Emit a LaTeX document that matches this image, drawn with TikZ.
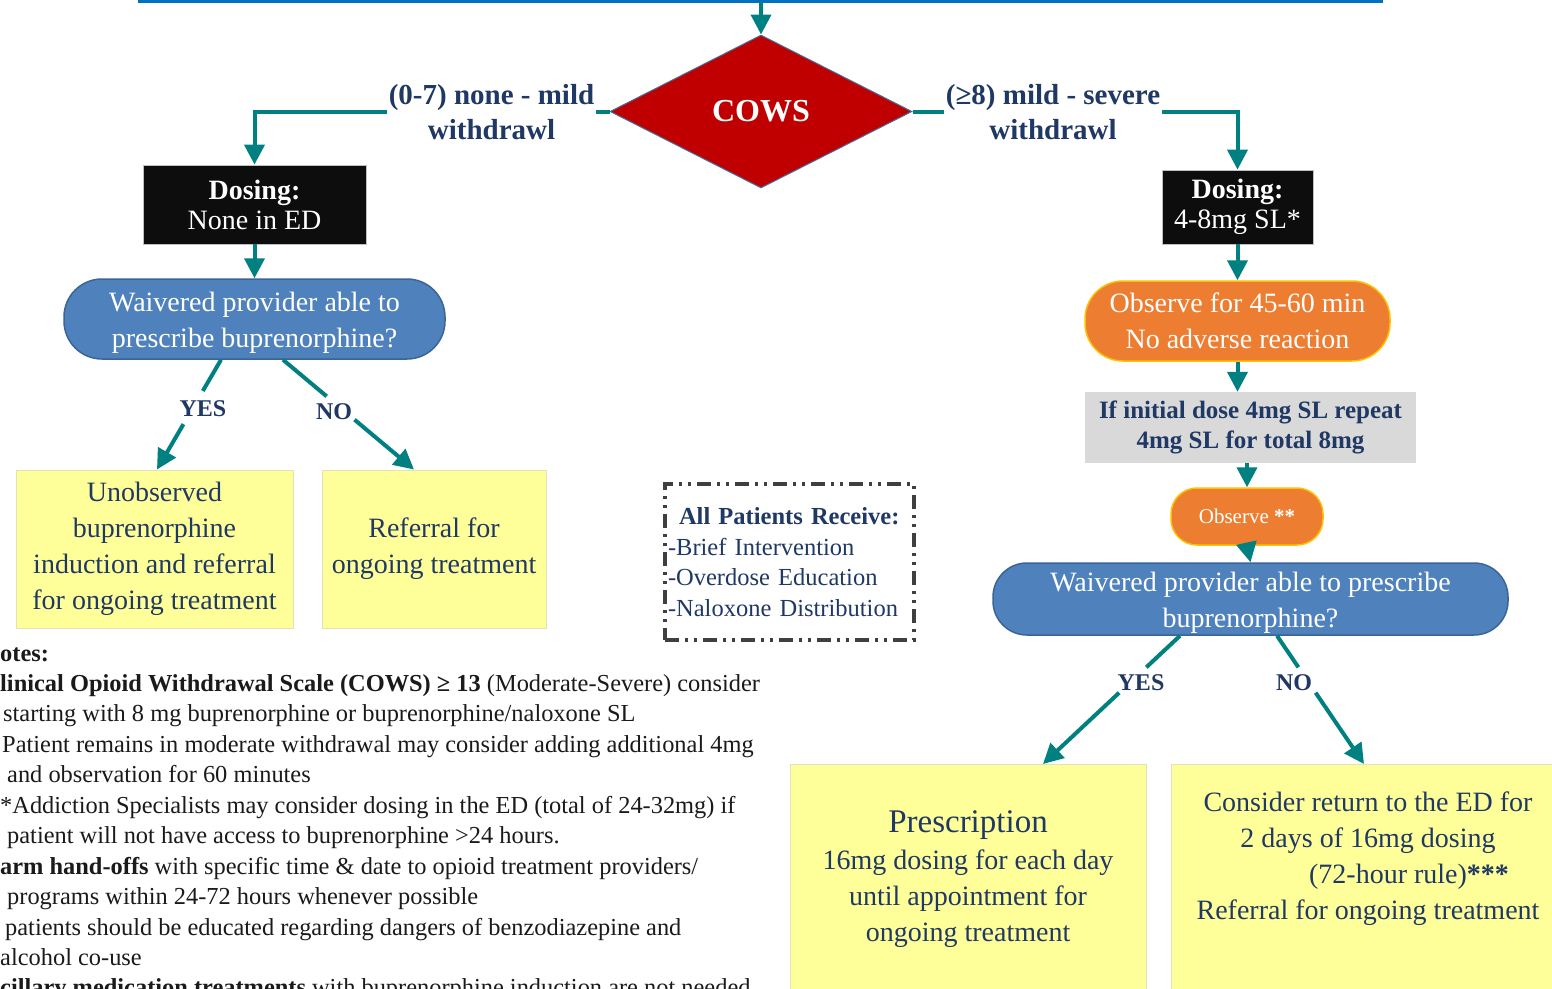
\documentclass[tikz,border=0pt]{standalone}
\usepackage{fontspec}
\setmainfont{Liberation Serif}
\usetikzlibrary{shapes.geometric,arrows.meta,calc}
\definecolor{tealc}{RGB}{0,128,128}
\definecolor{navy}{HTML}{1F3864}
\definecolor{topblue}{HTML}{0070C0}
\definecolor{cowsred}{HTML}{C00000}
\definecolor{cowsedge}{HTML}{41719C}
\definecolor{blackf}{HTML}{0D0D0D}
\definecolor{bluef}{HTML}{4F81BD}
\definecolor{blueb}{HTML}{3A6595}
\definecolor{orangef}{HTML}{ED7D31}
\definecolor{goldb}{HTML}{FFC000}
\definecolor{yellowf}{HTML}{FFFF99}
\definecolor{yellowb}{HTML}{E2E2B8}
\definecolor{grayf}{HTML}{D9D9D9}
\definecolor{dashc}{HTML}{3F3F3F}
\definecolor{notec}{HTML}{1A1A1A}
\begin{document}
\begin{tikzpicture}[x=1pt,y=-1pt]
\tikzset{
 flow/.style={draw=tealc, line width=4pt},
 arr/.style={flow, -{Triangle[length=20pt,width=20pt]}},
 blk/.style={rectangle, fill=blackf, draw=gray!50, line width=0.8pt, text=white, align=center, inner sep=0pt, font=\fontsize{28}{30}\selectfont},
 stad/.style={rectangle, fill=bluef, draw=blueb, line width=1.5pt, text=white, align=center, inner sep=0pt, font=\fontsize{28}{36}\selectfont},
 orng/.style={rectangle, fill=orangef, draw=goldb, line width=1.5pt, text=white, align=center, inner sep=0pt},
 ybox/.style={rectangle, fill=yellowf, draw=yellowb, line width=1pt, text=navy, align=center, inner sep=0pt, font=\fontsize{28}{36}\selectfont},
 gbox/.style={rectangle, fill=grayf, text=navy, align=center, inner sep=0pt, font=\fontsize{25}{30}\selectfont\bfseries},
 dbox/.style={rectangle, draw=dashc, line width=3.5pt, dash pattern=on 14pt off 6pt on 3pt off 6pt on 3pt off 6pt, text=navy, align=left, inner xsep=3pt, inner ysep=0pt, font=\fontsize{24.5}{30.5}\selectfont},
 lbl/.style={fill=white, text=navy, align=center, inner sep=2pt, font=\fontsize{29}{35}\selectfont\bfseries},
 yn/.style={text=navy, inner sep=0pt, font=\fontsize{24}{26}\selectfont\bfseries},
 txt/.style={text=navy, align=center, inner sep=0pt, font=\fontsize{28}{36}\selectfont},
 note/.style={anchor=base west, text=notec, inner sep=0pt, font=\fontsize{24.4}{28}\selectfont},
}
\useasboundingbox (0,0) rectangle (1552,988);
\clip (0,0) rectangle (1552,988);
\fill[white] (0,0) rectangle (1552,988);

% top line
\coordinate (tl) at (138,1);
\coordinate (tr) at (1383,1);
\draw[line width=4pt, draw=topblue] (tl) -- (tr);
\coordinate (topc) at (761,2);

% nodes
\node[diamond, fill=cowsred, draw=cowsedge, line width=1pt, minimum width=302pt, minimum height=153pt, inner sep=0pt, text=white, font=\fontsize{32}{36}\selectfont\bfseries] (cows) at (761,111.5) {COWS};

\node[blk, minimum width=223pt, minimum height=79pt] (dose1) at (254.5,204.5) {\textbf{Dosing:}\\None in ED};
\node[blk, minimum width=151pt, minimum height=74pt] (dose2) at (1237.5,207) {\textbf{Dosing:}\\4-8mg SL*};

\node[stad, rounded corners=38pt, minimum width=381pt, minimum height=80pt, text height=62pt] (w1) at (254.5,319) {Waivered provider able to\\prescribe buprenorphine?};

\node[ybox, minimum width=277pt, minimum height=158pt] (yl1) at (154.5,549) {Unobserved\\buprenorphine\\induction and referral\\for ongoing treatment};
\node[ybox, minimum width=224pt, minimum height=158pt] (yl2) at (434,549) {Referral for\\ongoing treatment};

\node[orng, rounded corners=38pt, minimum width=305pt, minimum height=80pt, font=\fontsize{28}{36}\selectfont] (obs1) at (1237.5,321) {Observe for 45-60 min\\No adverse reaction};
\node[gbox, minimum width=331pt, minimum height=71pt] (gray) at (1250.5,427.5) {If initial dose 4mg SL repeat\\4mg SL for total 8mg};
\node[orng, rounded corners=26pt, minimum width=152pt, minimum height=57pt, font=\fontsize{21}{24}\selectfont] (obs2) at (1247,516.5) {Observe \textbf{**}};
\node[stad, rounded corners=34pt, minimum width=515pt, minimum height=72pt, text height=62pt] (w2) at (1250.5,599) {Waivered provider able to prescribe\\buprenorphine?};

\node[ybox, anchor=north, minimum width=356pt, minimum height=250pt] (yr1) at (968,764) {};
\node[ybox, anchor=north west, minimum width=400pt, minimum height=250pt] (yr2) at (1171,764) {};
\node[txt] (yr1t) at (968,879) {{\fontsize{33}{36}\selectfont Prescription}\\[1pt]16mg dosing for each day\\until appointment for\\ongoing treatment};
\node[txt] (yr2t) at (1368,859) {Consider return to the ED for\\2 days of 16mg dosing\\\hspace*{82pt}(72-hour rule)\textbf{***}\\Referral for ongoing treatment};

\node[dbox, text width=243pt, minimum width=249pt, minimum height=156pt] (allp) at (789.5,562) {\hspace*{11pt}\textbf{All Patients Receive:}\\-Brief Intervention\\-Overdose Education\\-Naloxone Distribution};

% connectors
\draw[arr] (topc) -- (cows.north);
\draw[arr] (cows.west) -- (cows.west -| dose1.north) -- (dose1.north);
\draw[arr] (cows.east) -- (cows.east -| dose2.north) -- (dose2.north);
\draw[arr] (dose1.south) -- (w1.north);
\draw[arr] (dose2.south) -- (obs1.north);
\draw[arr] (obs1.south) -- (obs1.south |- gray.north);
\draw[arr] (gray.south -| obs2.north) -- (obs2.north);
\draw[arr] (obs2.south) -- (w2.north);

% yes / no left
\coordinate (ya) at ([xshift=-33.5pt]w1.south);
\coordinate (yb) at ([xshift=2.5pt]yl1.north);
\draw[flow] (ya) -- ($(ya)!0.284!(yb)$);
\draw[arr] ($(ya)!0.587!(yb)$) -- (yb);
\coordinate (na) at ([xshift=28.5pt]w1.south);
\coordinate (nb) at ([xshift=-20pt]yl2.north);
\draw[flow] (na) -- ($(na)!0.333!(nb)$);
\draw[arr] ($(na)!0.546!(nb)$) -- (nb);
\node[yn] (yes1) at (203,409) {YES};
\node[yn] (no1) at (334,412) {NO};

% yes / no right
\coordinate (ya2) at ([xshift=-70.5pt]w2.south);
\coordinate (yb2) at ([xshift=75pt]yr1.north);
\draw[flow] (ya2) -- ($(ya2)!0.246!(yb2)$);
\draw[arr] ($(ya2)!0.444!(yb2)$) -- (yb2);
\coordinate (na2) at ([xshift=26.5pt]w2.south);
\coordinate (nb2) at (1364,764);
\draw[flow] (na2) -- ($(na2)!0.246!(nb2)$);
\draw[arr] ($(na2)!0.444!(nb2)$) -- (nb2);
\node[yn] (yes2) at (1141,683) {YES};
\node[yn] (no2) at (1294,683) {NO};

% edge labels
\node[lbl] (lab1) at (491.5,112) {(0-7) none - mild\\withdrawl};
\node[lbl] (lab2) at (1053,112) {(≥8) mild - severe\\withdrawl};

% notes
\node[note] (n0) at (0,661) {\textbf{otes:}};
\node[note] (n1) at (0,691) {\textbf{linical Opioid Withdrawal Scale (COWS) ≥ 13} (Moderate-Severe) consider};
\node[note] (n2) at (3,721) {starting with 8 mg buprenorphine or buprenorphine/naloxone SL};
\node[note] (n3) at (2,752) {Patient remains in moderate withdrawal may consider adding additional 4mg};
\node[note] (n4) at (7,782) {and observation for 60 minutes};
\node[note] (n5) at (0,813) {*Addiction Specialists may consider dosing in the ED (total of 24-32mg) if};
\node[note] (n6) at (7,843) {patient will not have access to buprenorphine >24 hours.};
\node[note] (n7) at (0,874) {\textbf{arm hand-offs} with specific time \& date to opioid treatment providers/};
\node[note] (n8) at (7,904) {programs within 24-72 hours whenever possible};
\node[note] (n9) at (5,935) {patients should be educated regarding dangers of benzodiazepine and};
\node[note] (n10) at (0,965) {alcohol co-use};
\node[note] (n11) at (0,995) {\textbf{cillary medication treatments} with buprenorphine induction are not needed};
\end{tikzpicture}
\end{document}
